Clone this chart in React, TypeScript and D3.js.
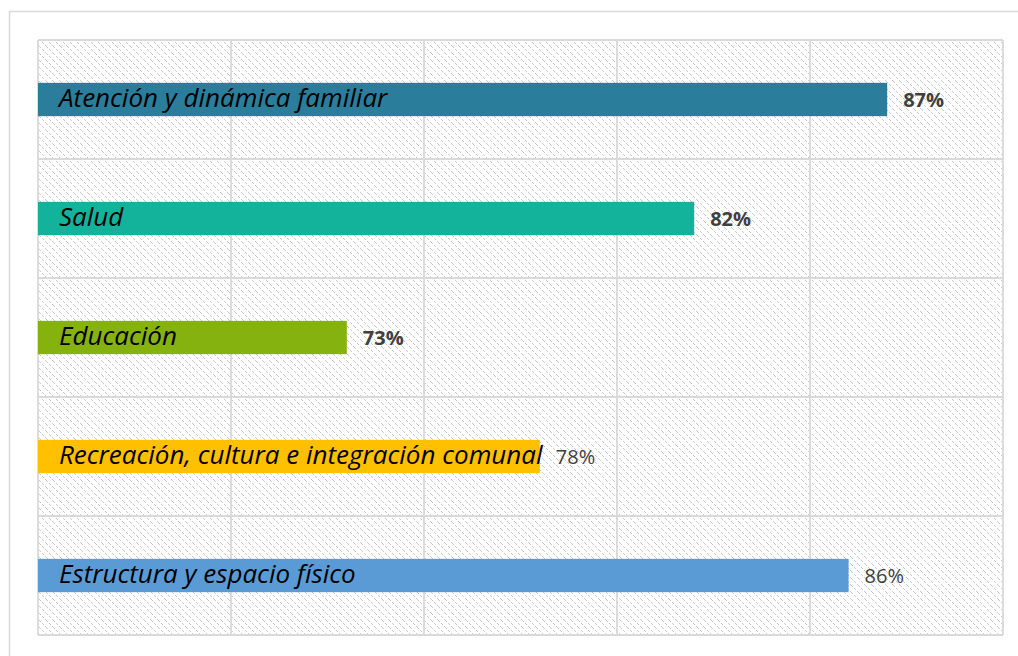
import React, { useRef, useEffect } from 'react';
import * as d3 from 'd3';

const categories = [
  'Atención y dinámica familiar',
  'Salud',
  'Educación',
  'Recreación, cultura e integración comunal',
  'Estructura y espacio físico',
];
const values = [87, 82, 73, 78, 86];
const barColors = ['#2a7e9c', '#12b39a', '#86b20f', '#ffc000', '#5b9bd5'];
const boldLabels = [true, true, true, false, false];
const xTicks = [65, 70, 75, 80, 85, 90];

const App = () => {
  const svgRef = useRef<SVGSVGElement | null>(null);

  useEffect(() => {
    const svgEl = d3.select(svgRef.current);
    svgEl.selectAll('*').remove();

    const W = 1018;
    const H = 656;
    const plot = { left: 38, top: 40, right: 1003, bottom: 635 };

    svgEl.attr('width', W).attr('height', H);

    // hatch pattern (pixel staircase, downward diagonal)
    const defs = svgEl.append('defs');
    const pat = defs.append('pattern')
      .attr('id', 'hatch')
      .attr('patternUnits', 'userSpaceOnUse')
      .attr('width', 7)
      .attr('height', 7);
    pat.selectAll('rect')
      .data([0, 1, 3, 4, 5])
      .enter()
      .append('rect')
      .attr('x', d => d)
      .attr('y', d => d)
      .attr('width', 1)
      .attr('height', 1)
      .attr('fill', '#c9c9c9')
      .attr('shape-rendering', 'crispEdges');

    // outer chart border
    svgEl.append('rect')
      .attr('x', 9.5)
      .attr('y', 11.5)
      .attr('width', W + 20)
      .attr('height', H + 20)
      .attr('fill', '#fff')
      .attr('stroke', '#d9d9d9')
      .attr('stroke-width', 1.5);

    const xScale = d3.scaleLinear()
      .domain([xTicks[0], xTicks[xTicks.length - 1]])
      .range([plot.left, plot.right]);

    const yScale = d3.scaleBand()
      .domain(categories)
      .range([plot.top, plot.bottom])
      .paddingInner(0.72)
      .paddingOuter(0.36);

    const yGrid = d3.scaleLinear()
      .domain([0, categories.length])
      .range([plot.top, plot.bottom]);

    svgEl.append('rect')
      .attr('x', plot.left)
      .attr('y', plot.top)
      .attr('width', plot.right - plot.left)
      .attr('height', plot.bottom - plot.top)
      .attr('fill', 'url(#hatch)');

    // gridlines
    const g = svgEl.append('g');
    g.selectAll('line.v')
      .data(xTicks)
      .enter()
      .append('line')
      .attr('x1', d => xScale(d))
      .attr('x2', d => xScale(d))
      .attr('y1', plot.top)
      .attr('y2', plot.bottom)
      .attr('stroke', '#d9d9d9')
      .attr('stroke-width', 1.8);

    g.selectAll('line.h')
      .data(d3.range(categories.length + 1))
      .enter()
      .append('line')
      .attr('x1', plot.left)
      .attr('x2', plot.right)
      .attr('y1', d => yGrid(d))
      .attr('y2', d => yGrid(d))
      .attr('stroke', '#d9d9d9')
      .attr('stroke-width', 1.8);

    // bars
    svgEl.selectAll('rect.bar')
      .data(categories)
      .enter()
      .append('rect')
      .attr('class', 'bar')
      .attr('x', xScale(xTicks[0]))
      .attr('y', d => yScale(d)!)
      .attr('width', (d, i) => xScale(values[i]) - xScale(xTicks[0]))
      .attr('height', yScale.bandwidth())
      .attr('fill', (d, i) => barColors[i]);

    // category labels inside bars
    svgEl.selectAll('text.cat')
      .data(categories)
      .enter()
      .append('text')
      .attr('x', xScale(xTicks[0]) + 21)
      .attr('y', d => yScale(d)! + yScale.bandwidth() / 2 + 1)
      .attr('dominant-baseline', 'middle')
      .style('font-family', '"Open Sans", sans-serif')
      .style('font-style', 'italic')
      .style('font-size', '26px')
      .style('fill', '#000')
      .text(d => d);

    // value labels
    svgEl.selectAll('text.val')
      .data(categories)
      .enter()
      .append('text')
      .attr('x', (d, i) => xScale(values[i]) + 16)
      .attr('y', d => yScale(d)! + yScale.bandwidth() / 2 + 2)
      .attr('dominant-baseline', 'middle')
      .style('font-family', '"Open Sans", sans-serif')
      .style('font-weight', (d, i) => (boldLabels[i] ? 700 : 400))
      .style('font-size', '20px')
      .style('fill', '#404040')
      .text((d, i) => `${values[i]}%`);
  }, []);

  return (
    <div style={{ position: 'absolute', left: 0, top: 0, width: 1018, height: 656, overflow: 'hidden' }}>
      <svg ref={svgRef} style={{ display: 'block' }}></svg>
    </div>
  );
};

export default App;
